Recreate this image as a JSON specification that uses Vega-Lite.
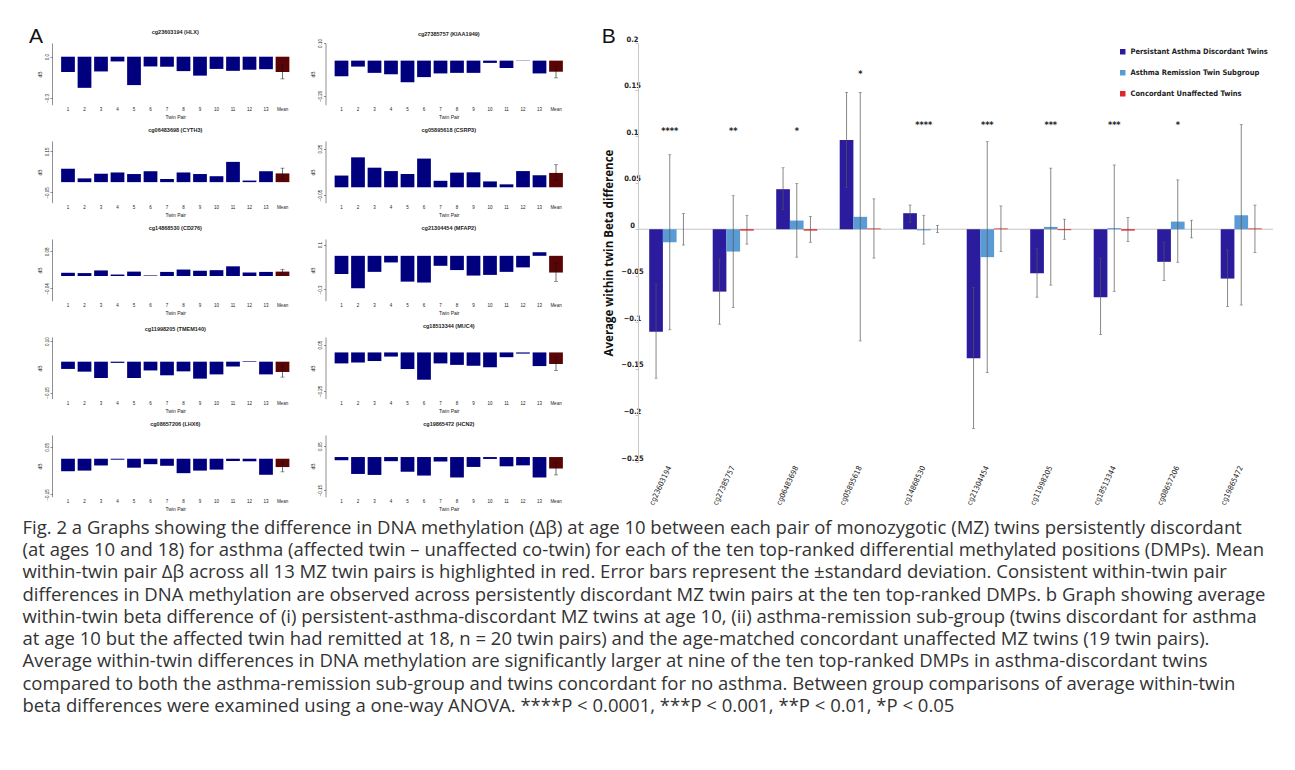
{
"$schema":"https://vega.github.io/schema/vega-lite/v6.json",
"background":"white",
"padding":{"left":22,"top":26,"right":5,"bottom":5},
"config":{"view":{"stroke":null},"font":"Liberation Sans",
"axis":{"labelFontSize":4.5,"titleFontSize":5,"labelColor":"#222","titleColor":"#222","titleFontWeight":"normal","grid":false,"domainColor":"#444","tickColor":"#444","domainWidth":0.6,"tickWidth":0.6,"tickSize":2,"labelPadding":1},
"axisX":{"domain":false,"ticks":false,"labelAngle":0,"labelPadding":2,"titlePadding":3},
"axisY":{"labelAngle":270,"titlePadding":2},
"title":{"fontSize":5.5,"fontWeight":"bold","font":"Liberation Sans","color":"#222","offset":7.1}},
"datasets":{
"a":[
{"c":1,"p":"1","v":-0.1115},{"c":1,"p":"2","v":-0.227},{"c":1,"p":"3","v":-0.1075},{"c":1,"p":"4","v":-0.0345},{"c":1,"p":"5","v":-0.207},{"c":1,"p":"6","v":-0.071},{"c":1,"p":"7","v":-0.073},{"c":1,"p":"8","v":-0.105},{"c":1,"p":"9","v":-0.138},{"c":1,"p":"10","v":-0.089},{"c":1,"p":"11","v":-0.103},{"c":1,"p":"12","v":-0.095},{"c":1,"p":"13","v":-0.091},{"c":1,"p":"Mean","v":-0.1115,"lo":-0.162,"hi":-0.061},
{"c":2,"p":"1","v":-0.0887},{"c":2,"p":"2","v":-0.0339},{"c":2,"p":"3","v":-0.0694},{"c":2,"p":"4","v":-0.0774},{"c":2,"p":"5","v":-0.1226},{"c":2,"p":"6","v":-0.0935},{"c":2,"p":"7","v":-0.0726},{"c":2,"p":"8","v":-0.0694},{"c":2,"p":"9","v":-0.0694},{"c":2,"p":"10","v":-0.0129},{"c":2,"p":"11","v":-0.0419},{"c":2,"p":"12","v":-0.0016},{"c":2,"p":"13","v":-0.0726},{"c":2,"p":"Mean","v":-0.0629,"lo":-0.098,"hi":-0.034},
{"c":3,"p":"1","v":0.0652},{"c":3,"p":"2","v":0.0182},{"c":3,"p":"3","v":0.0409},{"c":3,"p":"4","v":0.047},{"c":3,"p":"5","v":0.0394},{"c":3,"p":"6","v":0.053},{"c":3,"p":"7","v":0.0152},{"c":3,"p":"8","v":0.047},{"c":3,"p":"9","v":0.0394},{"c":3,"p":"10","v":0.0288},{"c":3,"p":"11","v":0.0985},{"c":3,"p":"12","v":0.0076},{"c":3,"p":"13","v":0.053},{"c":3,"p":"Mean","v":0.0424,"lo":0.0167,"hi":0.068},
{"c":4,"p":"1","v":0.076},{"c":4,"p":"2","v":0.194},{"c":4,"p":"3","v":0.127},{"c":4,"p":"4","v":0.105},{"c":4,"p":"5","v":0.086},{"c":4,"p":"6","v":0.186},{"c":4,"p":"7","v":0.042},{"c":4,"p":"8","v":0.095},{"c":4,"p":"9","v":0.097},{"c":4,"p":"10","v":0.038},{"c":4,"p":"11","v":0.019},{"c":4,"p":"12","v":0.105},{"c":4,"p":"13","v":0.078},{"c":4,"p":"Mean","v":0.093,"lo":0.046,"hi":0.146},
{"c":5,"p":"1","v":0.0105},{"c":5,"p":"2","v":0.0095},{"c":5,"p":"3","v":0.0181},{"c":5,"p":"4","v":0.0048},{"c":5,"p":"5","v":0.0143},{"c":5,"p":"6","v":0.0019},{"c":5,"p":"7","v":0.0133},{"c":5,"p":"8","v":0.021},{"c":5,"p":"9","v":0.0171},{"c":5,"p":"10","v":0.019},{"c":5,"p":"11","v":0.0314},{"c":5,"p":"12","v":0.0114},{"c":5,"p":"13","v":0.0133},{"c":5,"p":"Mean","v":0.0143,"lo":0.0067,"hi":0.0219},
{"c":6,"p":"1","v":-0.162},{"c":6,"p":"2","v":-0.289},{"c":6,"p":"3","v":-0.143},{"c":6,"p":"4","v":-0.059},{"c":6,"p":"5","v":-0.23},{"c":6,"p":"6","v":-0.238},{"c":6,"p":"7","v":-0.089},{"c":6,"p":"8","v":-0.127},{"c":6,"p":"9","v":-0.176},{"c":6,"p":"10","v":-0.17},{"c":6,"p":"11","v":-0.143},{"c":6,"p":"12","v":-0.103},{"c":6,"p":"13","v":0.032},{"c":6,"p":"Mean","v":-0.149,"lo":-0.227,"hi":-0.065},
{"c":7,"p":"1","v":-0.0353},{"c":7,"p":"2","v":-0.0485},{"c":7,"p":"3","v":-0.0794},{"c":7,"p":"4","v":-0.0059},{"c":7,"p":"5","v":-0.0794},{"c":7,"p":"6","v":-0.0426},{"c":7,"p":"7","v":-0.0662},{"c":7,"p":"8","v":-0.0471},{"c":7,"p":"9","v":-0.0824},{"c":7,"p":"10","v":-0.0618},{"c":7,"p":"11","v":-0.0235},{"c":7,"p":"12","v":0.0029},{"c":7,"p":"13","v":-0.0618},{"c":7,"p":"Mean","v":-0.05,"lo":-0.075,"hi":-0.0206},
{"c":8,"p":"1","v":-0.0712},{"c":8,"p":"2","v":-0.0654},{"c":8,"p":"3","v":-0.0558},{"c":8,"p":"4","v":-0.0269},{"c":8,"p":"5","v":-0.1077},{"c":8,"p":"6","v":-0.1769},{"c":8,"p":"7","v":-0.0712},{"c":8,"p":"8","v":-0.0808},{"c":8,"p":"9","v":-0.0865},{"c":8,"p":"10","v":-0.0962},{"c":8,"p":"11","v":-0.0308},{"c":8,"p":"12","v":-0.0077},{"c":8,"p":"13","v":-0.0885},{"c":8,"p":"Mean","v":-0.075,"lo":-0.1173,"hi":-0.0308},
{"c":9,"p":"1","v":-0.0527},{"c":9,"p":"2","v":-0.05},{"c":9,"p":"3","v":-0.0284},{"c":9,"p":"4","v":-0.0041},{"c":9,"p":"5","v":-0.0378},{"c":9,"p":"6","v":-0.023},{"c":9,"p":"7","v":-0.0297},{"c":9,"p":"8","v":-0.0608},{"c":9,"p":"9","v":-0.05},{"c":9,"p":"10","v":-0.0459},{"c":9,"p":"11","v":-0.0095},{"c":9,"p":"12","v":-0.0108},{"c":9,"p":"13","v":-0.0676},{"c":9,"p":"Mean","v":-0.0351,"lo":-0.0554,"hi":-0.0149},
{"c":10,"p":"1","v":-0.0145},{"c":10,"p":"2","v":-0.0768},{"c":10,"p":"3","v":-0.0812},{"c":10,"p":"4","v":-0.0188},{"c":10,"p":"5","v":-0.0667},{"c":10,"p":"6","v":-0.0841},{"c":10,"p":"7","v":-0.0203},{"c":10,"p":"8","v":-0.0928},{"c":10,"p":"9","v":-0.0449},{"c":10,"p":"10","v":-0.0087},{"c":10,"p":"11","v":-0.042},{"c":10,"p":"12","v":-0.0377},{"c":10,"p":"13","v":-0.0928},{"c":10,"p":"Mean","v":-0.0522,"lo":-0.0812,"hi":-0.0232}
],
"b":[
{"g":"cg23603194","s":"Persistant Asthma Discordant Twins","v":-0.11,"lo":-0.16,"hi":-0.059},
{"g":"cg23603194","s":"Asthma Remission Twin Subgroup","v":-0.014,"lo":-0.108,"hi":0.08},
{"g":"cg23603194","s":"Concordant Unaffected Twins","v":0,"lo":-0.017,"hi":0.017},
{"g":"cg27385757","s":"Persistant Asthma Discordant Twins","v":-0.067,"lo":-0.102,"hi":-0.032},
{"g":"cg27385757","s":"Asthma Remission Twin Subgroup","v":-0.024,"lo":-0.084,"hi":0.036},
{"g":"cg27385757","s":"Concordant Unaffected Twins","v":-0.0015,"lo":-0.016,"hi":0.015},
{"g":"cg06483698","s":"Persistant Asthma Discordant Twins","v":0.043,"lo":0.021,"hi":0.066},
{"g":"cg06483698","s":"Asthma Remission Twin Subgroup","v":0.0093,"lo":-0.03,"hi":0.049},
{"g":"cg06483698","s":"Concordant Unaffected Twins","v":-0.0015,"lo":-0.014,"hi":0.0136},
{"g":"cg05895618","s":"Persistant Asthma Discordant Twins","v":0.0957,"lo":0.045,"hi":0.147},
{"g":"cg05895618","s":"Asthma Remission Twin Subgroup","v":0.0133,"lo":-0.12,"hi":0.147},
{"g":"cg05895618","s":"Concordant Unaffected Twins","v":0.0008,"lo":-0.031,"hi":0.0326},
{"g":"cg14868530","s":"Persistant Asthma Discordant Twins","v":0.0172,"lo":0.0075,"hi":0.026},
{"g":"cg14868530","s":"Asthma Remission Twin Subgroup","v":-0.0012,"lo":-0.016,"hi":0.015},
{"g":"cg14868530","s":"Concordant Unaffected Twins","v":0,"lo":-0.0036,"hi":0.004},
{"g":"cg21304454","s":"Persistant Asthma Discordant Twins","v":-0.1387,"lo":-0.214,"hi":-0.0627},
{"g":"cg21304454","s":"Asthma Remission Twin Subgroup","v":-0.03,"lo":-0.154,"hi":0.094},
{"g":"cg21304454","s":"Concordant Unaffected Twins","v":0.0008,"lo":-0.024,"hi":0.025},
{"g":"cg11998205","s":"Persistant Asthma Discordant Twins","v":-0.0473,"lo":-0.073,"hi":-0.0204},
{"g":"cg11998205","s":"Asthma Remission Twin Subgroup","v":0.0025,"lo":-0.06,"hi":0.0656},
{"g":"cg11998205","s":"Concordant Unaffected Twins","v":-0.001,"lo":-0.0108,"hi":0.0108},
{"g":"cg18513344","s":"Persistant Asthma Discordant Twins","v":-0.0731,"lo":-0.113,"hi":-0.0315},
{"g":"cg18513344","s":"Asthma Remission Twin Subgroup","v":0.0012,"lo":-0.0667,"hi":0.069},
{"g":"cg18513344","s":"Concordant Unaffected Twins","v":-0.0015,"lo":-0.0133,"hi":0.0125},
{"g":"cg08657206","s":"Persistant Asthma Discordant Twins","v":-0.035,"lo":-0.055,"hi":-0.014},
{"g":"cg08657206","s":"Asthma Remission Twin Subgroup","v":0.0082,"lo":-0.0355,"hi":0.053},
{"g":"cg08657206","s":"Concordant Unaffected Twins","v":0,"lo":-0.0093,"hi":0.0097},
{"g":"cg19865472","s":"Persistant Asthma Discordant Twins","v":-0.053,"lo":-0.083,"hi":-0.0222},
{"g":"cg19865472","s":"Asthma Remission Twin Subgroup","v":0.015,"lo":-0.0814,"hi":0.1125},
{"g":"cg19865472","s":"Concordant Unaffected Twins","v":0.0008,"lo":-0.025,"hi":0.026}
],
"stars":[
{"g":"cg23603194","t":"****","y":0.106},{"g":"cg27385757","t":"**","y":0.106},{"g":"cg06483698","t":"*","y":0.106},{"g":"cg05895618","t":"*","y":0.167},{"g":"cg14868530","t":"****","y":0.112},{"g":"cg21304454","t":"***","y":0.112},{"g":"cg11998205","t":"***","y":0.112},{"g":"cg18513344","t":"***","y":0.112},{"g":"cg08657206","t":"*","y":0.112}
],
"cap":[
{"i":1,"t":"Fig. 2 a Graphs showing the difference in DNA methylation (Δβ) at age 10 between each pair of monozygotic (MZ) twins persistently discordant"},
{"i":2,"t":"(at ages 10 and 18) for asthma (affected twin – unaffected co-twin) for each of the ten top-ranked differential methylated positions (DMPs). Mean"},
{"i":3,"t":"within-twin pair Δβ across all 13 MZ twin pairs is highlighted in red. Error bars represent the ±standard deviation. Consistent within-twin pair"},
{"i":4,"t":"differences in DNA methylation are observed across persistently discordant MZ twin pairs at the ten top-ranked DMPs. b Graph showing average"},
{"i":5,"t":"within-twin beta difference of (i) persistent-asthma-discordant MZ twins at age 10, (ii) asthma-remission sub-group (twins discordant for asthma"},
{"i":6,"t":"at age 10 but the affected twin had remitted at 18, n = 20 twin pairs) and the age-matched concordant unaffected MZ twins (19 twin pairs)."},
{"i":7,"t":"Average within-twin differences in DNA methylation are significantly larger at nine of the ten top-ranked DMPs in asthma-discordant twins"},
{"i":8,"t":"compared to both the asthma-remission sub-group and twins concordant for no asthma. Between group comparisons of average within-twin"},
{"i":9,"t":"beta differences were examined using a one-way ANOVA. ****P < 0.0001, ***P < 0.001, **P < 0.01, *P < 0.05"}
]
},
"columns":1,"align":"none","spacing":4,
"concat":[
{"hconcat":[
{"title":{"text":"A","anchor":"start","fontSize":21,"fontWeight":"normal","color":"#111","offset":-16.9,"dx":-8},
"columns":2,"spacing":{"row":36,"column":26.5},"bounds":"flush",
"concat":[
{"width":246.5,"height":61.7,"title":{"text":"cg23603194 (HLX)"},"data":{"name":"a"},"transform":[{"filter":"datum.c == 1"}],
"encoding":{"x":{"field":"p","type":"ordinal","sort":null,"title":"Twin Pair","scale":{"paddingInner":0.1667,"paddingOuter":0.553}}},
"layer":[
{"mark":{"type":"bar"},"encoding":{"y":{"field":"v","type":"quantitative","title":"dB","scale":{"domain":[-0.3122,0.0633]},"axis":{"values":[-0.3,-0.2,-0.1,0],"format":".1f"}},"color":{"condition":{"test":"datum.p==='Mean'","value":"#5a0505"},"value":"#00007f"}}},
{"transform":[{"filter":"datum.p==='Mean'"}],"mark":{"type":"rule","color":"#111","strokeWidth":0.6},"encoding":{"y":{"field":"lo","type":"quantitative","title":"dB"},"y2":{"field":"hi"}}},
{"transform":[{"filter":"datum.p==='Mean'"}],"mark":{"type":"tick","color":"#111","size":4,"thickness":0.6},"encoding":{"y":{"field":"lo","type":"quantitative","title":"dB"}}},
{"transform":[{"filter":"datum.p==='Mean'"}],"mark":{"type":"tick","color":"#111","size":4,"thickness":0.6},"encoding":{"y":{"field":"hi","type":"quantitative","title":"dB"}}}
]},
{"width":246.5,"height":61.7,"title":{"text":"cg27385757 (KIAA1949)","offset":1.3},"data":{"name":"a"},"transform":[{"filter":"datum.c == 2"}],
"encoding":{"x":{"field":"p","type":"ordinal","sort":null,"title":"Twin Pair","scale":{"paddingInner":0.1667,"paddingOuter":0.553}}},
"layer":[
{"mark":{"type":"bar"},"encoding":{"y":{"field":"v","type":"quantitative","title":"dB","scale":{"domain":[-0.2046,0.0939]},"axis":{"values":[-0.2,-0.15,-0.1,-0.05,0,0.05,0.1],"format":".2f"}},"color":{"condition":{"test":"datum.p==='Mean'","value":"#5a0505"},"value":"#00007f"}}},
{"transform":[{"filter":"datum.p==='Mean'"}],"mark":{"type":"rule","color":"#111","strokeWidth":0.6},"encoding":{"y":{"field":"lo","type":"quantitative","title":"dB"},"y2":{"field":"hi"}}},
{"transform":[{"filter":"datum.p==='Mean'"}],"mark":{"type":"tick","color":"#111","size":4,"thickness":0.6},"encoding":{"y":{"field":"lo","type":"quantitative","title":"dB"}}},
{"transform":[{"filter":"datum.p==='Mean'"}],"mark":{"type":"tick","color":"#111","size":4,"thickness":0.6},"encoding":{"y":{"field":"hi","type":"quantitative","title":"dB"}}}
]},
{"width":246.5,"height":61.7,"title":{"text":"cg06483698 (CYTH3)"},"data":{"name":"a"},"transform":[{"filter":"datum.c == 3"}],
"encoding":{"x":{"field":"p","type":"ordinal","sort":null,"title":"Twin Pair","scale":{"paddingInner":0.1667,"paddingOuter":0.553}}},
"layer":[
{"mark":{"type":"bar"},"encoding":{"y":{"field":"v","type":"quantitative","title":"dB","scale":{"domain":[-0.0818,0.1986]},"axis":{"values":[-0.05,0,0.05,0.1,0.15],"format":".2f"}},"color":{"condition":{"test":"datum.p==='Mean'","value":"#5a0505"},"value":"#00007f"}}},
{"transform":[{"filter":"datum.p==='Mean'"}],"mark":{"type":"rule","color":"#111","strokeWidth":0.6},"encoding":{"y":{"field":"lo","type":"quantitative","title":"dB"},"y2":{"field":"hi"}}},
{"transform":[{"filter":"datum.p==='Mean'"}],"mark":{"type":"tick","color":"#111","size":4,"thickness":0.6},"encoding":{"y":{"field":"lo","type":"quantitative","title":"dB"}}},
{"transform":[{"filter":"datum.p==='Mean'"}],"mark":{"type":"tick","color":"#111","size":4,"thickness":0.6},"encoding":{"y":{"field":"hi","type":"quantitative","title":"dB"}}}
]},
{"width":246.5,"height":61.7,"title":{"text":"cg05895618 (CSRP3)"},"data":{"name":"a"},"transform":[{"filter":"datum.c == 4"}],
"encoding":{"x":{"field":"p","type":"ordinal","sort":null,"title":"Twin Pair","scale":{"paddingInner":0.1667,"paddingOuter":0.553}}},
"layer":[
{"mark":{"type":"bar"},"encoding":{"y":{"field":"v","type":"quantitative","title":"dB","scale":{"domain":[-0.0666,0.2847]},"axis":{"values":[-0.05,0,0.05,0.1,0.15,0.2,0.25],"format":".2f"}},"color":{"condition":{"test":"datum.p==='Mean'","value":"#5a0505"},"value":"#00007f"}}},
{"transform":[{"filter":"datum.p==='Mean'"}],"mark":{"type":"rule","color":"#111","strokeWidth":0.6},"encoding":{"y":{"field":"lo","type":"quantitative","title":"dB"},"y2":{"field":"hi"}}},
{"transform":[{"filter":"datum.p==='Mean'"}],"mark":{"type":"tick","color":"#111","size":4,"thickness":0.6},"encoding":{"y":{"field":"lo","type":"quantitative","title":"dB"}}},
{"transform":[{"filter":"datum.p==='Mean'"}],"mark":{"type":"tick","color":"#111","size":4,"thickness":0.6},"encoding":{"y":{"field":"hi","type":"quantitative","title":"dB"}}}
]},
{"width":246.5,"height":61.7,"title":{"text":"cg14868530 (CD276)"},"data":{"name":"a"},"transform":[{"filter":"datum.c == 5"}],
"encoding":{"x":{"field":"p","type":"ordinal","sort":null,"title":"Twin Pair","scale":{"paddingInner":0.1667,"paddingOuter":0.553}}},
"layer":[
{"mark":{"type":"bar"},"encoding":{"y":{"field":"v","type":"quantitative","title":"dB","scale":{"domain":[-0.0669,0.1094]},"axis":{"values":[-0.04,-0.02,0,0.02,0.04,0.06,0.08],"format":".2f"}},"color":{"condition":{"test":"datum.p==='Mean'","value":"#5a0505"},"value":"#00007f"}}},
{"transform":[{"filter":"datum.p==='Mean'"}],"mark":{"type":"rule","color":"#111","strokeWidth":0.6},"encoding":{"y":{"field":"lo","type":"quantitative","title":"dB"},"y2":{"field":"hi"}}},
{"transform":[{"filter":"datum.p==='Mean'"}],"mark":{"type":"tick","color":"#111","size":4,"thickness":0.6},"encoding":{"y":{"field":"lo","type":"quantitative","title":"dB"}}},
{"transform":[{"filter":"datum.p==='Mean'"}],"mark":{"type":"tick","color":"#111","size":4,"thickness":0.6},"encoding":{"y":{"field":"hi","type":"quantitative","title":"dB"}}}
]},
{"width":246.5,"height":61.7,"title":{"text":"cg21304454 (MFAP2)"},"data":{"name":"a"},"transform":[{"filter":"datum.c == 6"}],
"encoding":{"x":{"field":"p","type":"ordinal","sort":null,"title":"Twin Pair","scale":{"paddingInner":0.1667,"paddingOuter":0.553}}},
"layer":[
{"mark":{"type":"bar"},"encoding":{"y":{"field":"v","type":"quantitative","title":"dB","scale":{"domain":[-0.3625,0.1379]},"axis":{"values":[-0.3,-0.2,-0.1,0,0.1],"format":".1f"}},"color":{"condition":{"test":"datum.p==='Mean'","value":"#5a0505"},"value":"#00007f"}}},
{"transform":[{"filter":"datum.p==='Mean'"}],"mark":{"type":"rule","color":"#111","strokeWidth":0.6},"encoding":{"y":{"field":"lo","type":"quantitative","title":"dB"},"y2":{"field":"hi"}}},
{"transform":[{"filter":"datum.p==='Mean'"}],"mark":{"type":"tick","color":"#111","size":4,"thickness":0.6},"encoding":{"y":{"field":"lo","type":"quantitative","title":"dB"}}},
{"transform":[{"filter":"datum.p==='Mean'"}],"mark":{"type":"tick","color":"#111","size":4,"thickness":0.6},"encoding":{"y":{"field":"hi","type":"quantitative","title":"dB"}}}
]},
{"width":246.5,"height":61.7,"title":{"text":"cg11998205 (TMEM140)","offset":4.5},"data":{"name":"a"},"transform":[{"filter":"datum.c == 7"}],
"encoding":{"x":{"field":"p","type":"ordinal","sort":null,"title":"Twin Pair","scale":{"paddingInner":0.1667,"paddingOuter":0.553}}},
"layer":[
{"mark":{"type":"bar"},"encoding":{"y":{"field":"v","type":"quantitative","title":"dB","scale":{"domain":[-0.1707,0.1015]},"axis":{"values":[-0.15,-0.1,-0.05,0,0.05,0.1],"format":".2f"}},"color":{"condition":{"test":"datum.p==='Mean'","value":"#5a0505"},"value":"#00007f"}}},
{"transform":[{"filter":"datum.p==='Mean'"}],"mark":{"type":"rule","color":"#111","strokeWidth":0.6},"encoding":{"y":{"field":"lo","type":"quantitative","title":"dB"},"y2":{"field":"hi"}}},
{"transform":[{"filter":"datum.p==='Mean'"}],"mark":{"type":"tick","color":"#111","size":4,"thickness":0.6},"encoding":{"y":{"field":"lo","type":"quantitative","title":"dB"}}},
{"transform":[{"filter":"datum.p==='Mean'"}],"mark":{"type":"tick","color":"#111","size":4,"thickness":0.6},"encoding":{"y":{"field":"hi","type":"quantitative","title":"dB"}}}
]},
{"width":246.5,"height":61.7,"title":{"text":"cg18513344 (MUC4)"},"data":{"name":"a"},"transform":[{"filter":"datum.c == 8"}],
"encoding":{"x":{"field":"p","type":"ordinal","sort":null,"title":"Twin Pair","scale":{"paddingInner":0.1667,"paddingOuter":0.553}}},
"layer":[
{"mark":{"type":"bar"},"encoding":{"y":{"field":"v","type":"quantitative","title":"dB","scale":{"domain":[-0.2614,0.0946]},"axis":{"values":[-0.25,-0.2,-0.15,-0.1,-0.05,0,0.05],"format":".2f"}},"color":{"condition":{"test":"datum.p==='Mean'","value":"#5a0505"},"value":"#00007f"}}},
{"transform":[{"filter":"datum.p==='Mean'"}],"mark":{"type":"rule","color":"#111","strokeWidth":0.6},"encoding":{"y":{"field":"lo","type":"quantitative","title":"dB"},"y2":{"field":"hi"}}},
{"transform":[{"filter":"datum.p==='Mean'"}],"mark":{"type":"tick","color":"#111","size":4,"thickness":0.6},"encoding":{"y":{"field":"lo","type":"quantitative","title":"dB"}}},
{"transform":[{"filter":"datum.p==='Mean'"}],"mark":{"type":"tick","color":"#111","size":4,"thickness":0.6},"encoding":{"y":{"field":"hi","type":"quantitative","title":"dB"}}}
]},
{"width":246.5,"height":61.7,"title":{"text":"cg08657206 (LHX6)"},"data":{"name":"a"},"transform":[{"filter":"datum.c == 9"}],
"encoding":{"x":{"field":"p","type":"ordinal","sort":null,"title":"Twin Pair","scale":{"paddingInner":0.1667,"paddingOuter":0.553}}},
"layer":[
{"mark":{"type":"bar"},"encoding":{"y":{"field":"v","type":"quantitative","title":"dB","scale":{"domain":[-0.1565,0.0936]},"axis":{"values":[-0.15,-0.1,-0.05,0,0.05],"format":".2f"}},"color":{"condition":{"test":"datum.p==='Mean'","value":"#5a0505"},"value":"#00007f"}}},
{"transform":[{"filter":"datum.p==='Mean'"}],"mark":{"type":"rule","color":"#111","strokeWidth":0.6},"encoding":{"y":{"field":"lo","type":"quantitative","title":"dB"},"y2":{"field":"hi"}}},
{"transform":[{"filter":"datum.p==='Mean'"}],"mark":{"type":"tick","color":"#111","size":4,"thickness":0.6},"encoding":{"y":{"field":"lo","type":"quantitative","title":"dB"}}},
{"transform":[{"filter":"datum.p==='Mean'"}],"mark":{"type":"tick","color":"#111","size":4,"thickness":0.6},"encoding":{"y":{"field":"hi","type":"quantitative","title":"dB"}}}
]},
{"width":246.5,"height":61.7,"title":{"text":"cg19865472 (HCN2)"},"data":{"name":"a"},"transform":[{"filter":"datum.c == 10"}],
"encoding":{"x":{"field":"p","type":"ordinal","sort":null,"title":"Twin Pair","scale":{"paddingInner":0.1667,"paddingOuter":0.553}}},
"layer":[
{"mark":{"type":"bar"},"encoding":{"y":{"field":"v","type":"quantitative","title":"dB","scale":{"domain":[-0.1796,0.0887]},"axis":{"values":[-0.15,-0.1,-0.05,0,0.05],"format":".2f"}},"color":{"condition":{"test":"datum.p==='Mean'","value":"#5a0505"},"value":"#00007f"}}},
{"transform":[{"filter":"datum.p==='Mean'"}],"mark":{"type":"rule","color":"#111","strokeWidth":0.6},"encoding":{"y":{"field":"lo","type":"quantitative","title":"dB"},"y2":{"field":"hi"}}},
{"transform":[{"filter":"datum.p==='Mean'"}],"mark":{"type":"tick","color":"#111","size":4,"thickness":0.6},"encoding":{"y":{"field":"lo","type":"quantitative","title":"dB"}}},
{"transform":[{"filter":"datum.p==='Mean'"}],"mark":{"type":"tick","color":"#111","size":4,"thickness":0.6},"encoding":{"y":{"field":"hi","type":"quantitative","title":"dB"}}}
]}
]},
{"width":635,"height":419,
"title":{"text":"B","anchor":"start","fontSize":21,"fontWeight":"normal","color":"#111","offset":-12,"dx":-2},
"encoding":{
"x":{"field":"g","type":"nominal","title":null,"scale":{"domain":["cg23603194","cg27385757","cg06483698","cg05895618","cg14868530","cg21304454","cg11998205","cg18513344","cg08657206","cg19865472"],"paddingInner":0.353,"paddingOuter":0.1765},
"axis":{"labelAngle":-65,"labelFont":"DejaVu Sans Condensed, Liberation Sans, sans-serif","labelFontSize":7.5,"labelPadding":4,"labelColor":"#222","domain":false,"ticks":false}}},
"layer":[
{"data":{"values":[{"z":0}]},"mark":{"type":"rule","color":"#c4c4c4","strokeWidth":1},"encoding":{"x":null,"y":{"field":"z","type":"quantitative","title":"Average within twin Beta difference"}}},
{"data":{"name":"b"},"mark":{"type":"bar"},"encoding":{
"xOffset":{"field":"s","scale":{"domain":["Persistant Asthma Discordant Twins","Asthma Remission Twin Subgroup","Concordant Unaffected Twins"]}},
"y":{"field":"v","type":"quantitative","title":"Average within twin Beta difference","scale":{"domain":[-0.25,0.2],"nice":false},
"axis":{"values":[-0.25,-0.2,-0.15,-0.1,-0.05,0,0.05,0.1,0.15,0.2],"format":".2~f","labelAngle":0,"labelFont":"DejaVu Sans Condensed, Liberation Sans, sans-serif","labelFontSize":7.5,"labelFontWeight":"bold","labelColor":"#222","labelPadding":3,"domainColor":"#c8c8c8","tickColor":"#c8c8c8","tickSize":3,"domainWidth":1,"tickWidth":1,"titleFont":"Open Sans","titleFontSize":11.5,"titleFontWeight":"bold","titleColor":"#111","titlePadding":6}},
"color":{"field":"s","type":"nominal","scale":{"domain":["Persistant Asthma Discordant Twins","Asthma Remission Twin Subgroup","Concordant Unaffected Twins"],"range":["#2b1c9e","#5b9bd5","#e0262a"]},
"legend":{"orient":"top-right","title":null,"symbolType":"square","symbolSize":30,"labelFont":"DejaVu Sans Condensed, Liberation Sans, sans-serif","labelFontSize":7.5,"labelFontWeight":"bold","labelColor":"#222","rowPadding":12,"offset":5,"padding":0}}}},
{"data":{"name":"b"},"mark":{"type":"rule","color":"#555","strokeWidth":0.7},"encoding":{"xOffset":{"field":"s"},"y":{"field":"lo","type":"quantitative","title":"Average within twin Beta difference"},"y2":{"field":"hi"}}},
{"data":{"name":"b"},"mark":{"type":"tick","color":"#555","size":3,"thickness":0.7},"encoding":{"xOffset":{"field":"s"},"y":{"field":"lo","type":"quantitative","title":"Average within twin Beta difference"}}},
{"data":{"name":"b"},"mark":{"type":"tick","color":"#555","size":3,"thickness":0.7},"encoding":{"xOffset":{"field":"s"},"y":{"field":"hi","type":"quantitative","title":"Average within twin Beta difference"}}},
{"data":{"name":"stars"},"mark":{"type":"text","font":"DejaVu Sans Condensed, Liberation Sans, sans-serif","fontSize":9,"fontWeight":"bold","color":"#222","baseline":"middle"},"encoding":{"y":{"field":"y","type":"quantitative","title":"Average within twin Beta difference"},"text":{"field":"t"}}}
]}
],"spacing":29,"resolve":{"scale":{"color":"independent"},"legend":{"color":"independent"}}},
{"width":1220,"height":200.7,"data":{"name":"cap"},
"mark":{"type":"point","opacity":0},
"encoding":{"y":{"field":"t","type":"ordinal","sort":{"field":"i","op":"min"},"scale":{"padding":0.5},
"axis":{"orient":"left","title":null,"domain":false,"ticks":false,"labelAlign":"left","labelBaseline":"middle","labelAngle":0,"labelPadding":30,"labelLimit":0,"labelOverlap":false,"labelFont":"Open Sans","labelFontSize":18.5,"labelColor":"#333"}}}}
]
}
